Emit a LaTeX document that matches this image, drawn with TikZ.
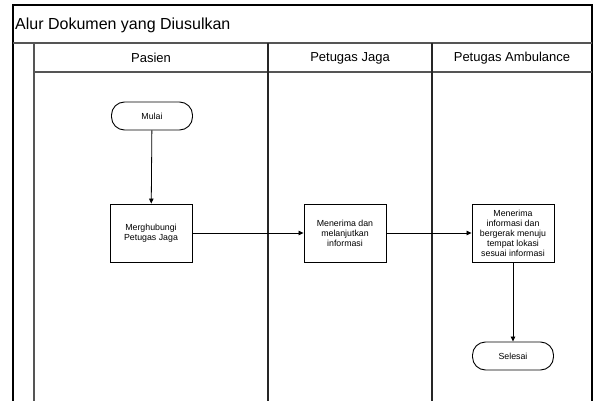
\documentclass[tikz,border=0pt]{standalone}
\usepackage{fontspec}
\setmainfont{Liberation Sans}
\usetikzlibrary{arrows.meta,positioning}
\definecolor{lanegray}{HTML}{555555}
\tikzset{
  frame/.style={draw=black, line width=1.8pt},
  lane/.style={draw=lanegray, line width=1.2pt},
  lanehead/.style={font=\fontsize{13}{15}\selectfont, anchor=center},
  proc/.style={draw, line width=0.9pt, minimum width=82pt, minimum height=58pt, align=center, inner sep=1pt, font=\fontsize{8.8}{10}\selectfont},
  term/.style={draw, line width=0.9pt, rounded corners=13pt, minimum width=81pt, minimum height=28pt, inner sep=1pt, font=\fontsize{8.8}{10}\selectfont},
  arr/.style={-{Triangle[length=5pt,width=4.5pt]}, line width=0.8pt},
}

\begin{document}
\begin{tikzpicture}[x=1pt, y=-1pt]
  \useasboundingbox (0,0) rectangle (594,401);
  % swimlane frame
  \draw[frame] (13,401) -- (13,5) -- (592,5) -- (592,401);
  \draw[lane] (13,43) -- (592,43);
  \draw[lane] (34,43) -- (34,401);
  \draw[lane] (34,72) -- (592,72);
  \draw[lane, draw=black!85] (268,43) -- (268,401);
  \draw[lane, draw=black!85] (432,43) -- (432,401);
  \node[anchor=west, font=\fontsize{16}{18}\selectfont, inner sep=0pt] (judul) at (15,25) {Alur Dokumen yang Diusulkan};
  \node[lanehead] (pasien) at (151,58) {Pasien};
  \node[lanehead] (jaga) at (350,58) {Petugas Jaga};
  \node[lanehead] (ambulance) at (512,58) {Petugas Ambulance};

  % flow
  \node[term] (mulai) at (152,116) {Mulai};
  \node[proc] (hubungi) at (151,233) {Merghubungi\\Petugas Jaga};
  \node[proc] (teruskan) at (345,233) {Menerima dan\\melanjutkan\\informasi};
  \node[proc] (bergerak) at (513,233) {Menerima\\informasi dan\\bergerak menuju\\tempat lokasi\\sesuai informasi};
  \node[term] (selesai) at (513,356) {Selesai};
  \draw[arr] (mulai) -- (hubungi);
  \draw[arr] (hubungi) -- (teruskan);
  \draw[arr] (teruskan) -- (bergerak);
  \draw[arr] (bergerak) -- (selesai);
\end{tikzpicture}
\end{document}
